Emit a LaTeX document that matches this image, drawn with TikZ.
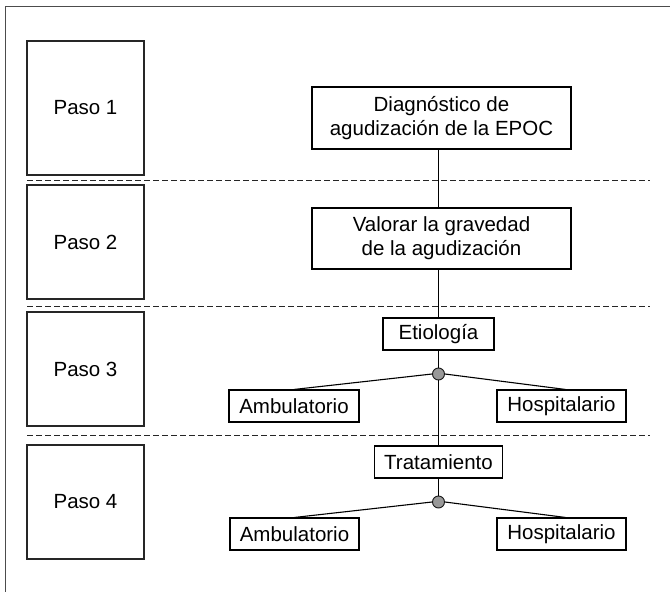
\documentclass[tikz,border=0pt]{standalone}
\usepackage{fontspec}
\setmainfont{Liberation Sans}
\begin{document}
\begin{tikzpicture}[x=1pt,y=-1pt,
  every node/.style={font=\fontsize{20.5}{24}\selectfont, inner sep=0pt, text=black},
  pasobox/.style={draw=black!85, line width=1.2pt, rectangle, minimum width=117pt},
  bigbox/.style={draw=black, line width=1.1pt, rectangle, minimum width=259pt, align=center},
  smallbox/.style={draw=black, line width=1.1pt, rectangle, minimum height=32pt},
  sep/.style={draw=black!85, line width=1pt, dash pattern=on 5.5pt off 3.5pt},
  conn/.style={draw=black, line width=1.1pt},
  junction/.style={circle, draw=black!90, fill=black!40, line width=0.9pt, minimum size=12pt}]
\useasboundingbox (0,0) rectangle (670,592);
% frame
\draw[black!70, line width=1pt] (5.5,600) -- (5.5,6) -- (680,6);
% step boxes
\node[pasobox, minimum height=134pt] (p1) at (85.5,108) {Paso 1};
\node[pasobox, minimum height=114pt] (p2) at (85.5,242) {Paso 2};
\node[pasobox, minimum height=114pt] (p3) at (85.5,369) {Paso 3};
\node[pasobox, minimum height=114pt] (p4) at (85.5,502) {Paso 4};
% separators
\draw[sep] (27,180) -- (650,180);
\draw[sep] (27,306) -- (650,306);
\draw[sep] (27,435) -- (650,435);
% flow
\node[bigbox, minimum height=62pt] (diag) at (441.5,118) {Diagnóstico de\\agudización de la EPOC};
\node[bigbox, minimum height=61pt] (val) at (441.5,238.5) {Valorar la gravedad\\de la agudización};
\node[smallbox, minimum width=111pt] (etio) at (438.5,334) {Etiología};
\node[junction] (j1) at (438.5,374) {};
\node[smallbox, minimum width=130pt] (amb1) at (294,406) {Ambulatorio};
\node[smallbox, minimum width=129pt] (hosp1) at (561.5,406) {Hospitalario};
\node[smallbox, minimum width=128pt] (trat) at (438.5,462) {Tratamiento};
\node[junction] (j2) at (438.5,502) {};
\node[smallbox, minimum width=129pt] (amb2) at (294.5,534) {Ambulatorio};
\node[smallbox, minimum width=129pt] (hosp2) at (561.5,534) {Hospitalario};
% connectors
\draw[conn] (diag.south -| etio) -- (val.north -| etio);
\draw[conn] (val.south -| etio) -- (etio.north);
\draw[conn] (etio.south) -- (j1.north);
\draw[conn] (j1.south) -- (trat.north);
\draw[conn] (trat.south) -- (j2.north);
\draw[conn] (j1.west) -- (amb1.north);
\draw[conn] (j1.east) -- ([xshift=4pt]hosp1.north);
\draw[conn] (j2.west) -- (amb2.north);
\draw[conn] (j2.east) -- ([xshift=4pt]hosp2.north);
\end{tikzpicture}
\end{document}
